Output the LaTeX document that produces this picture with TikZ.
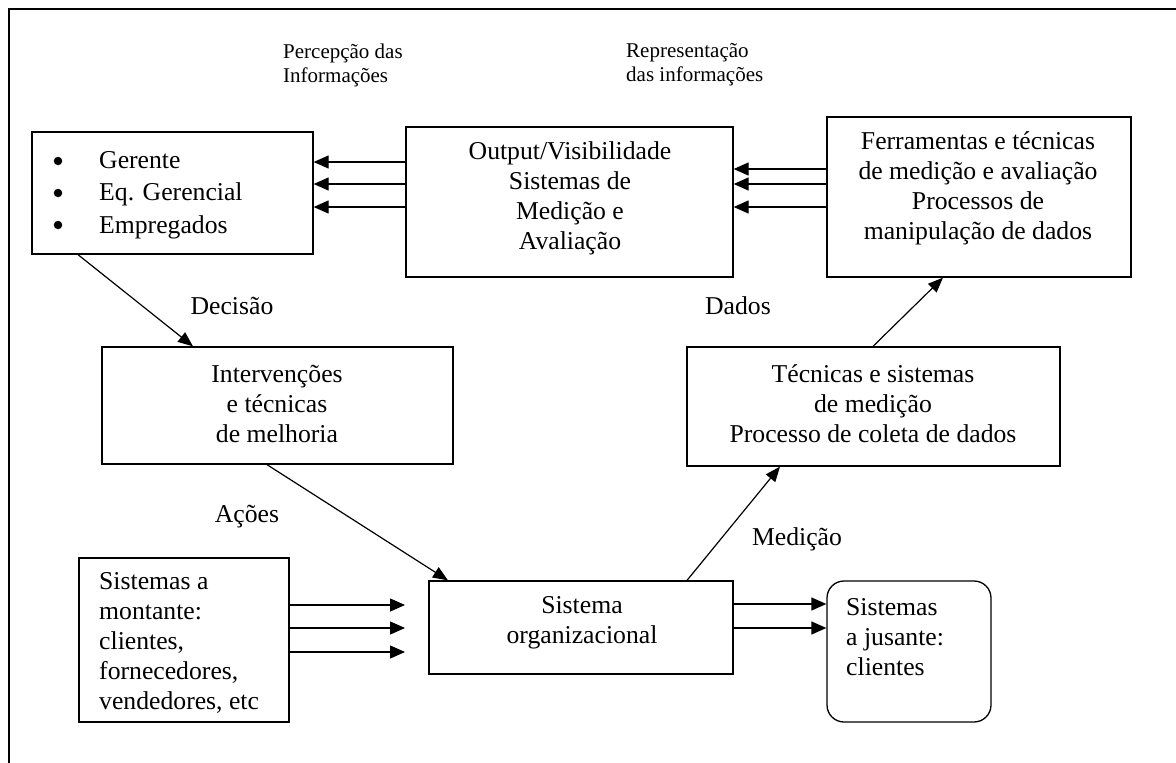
\documentclass[tikz,border=0pt]{standalone}
\usepackage{fontspec}
\setmainfont{Liberation Serif}
\usetikzlibrary{arrows.meta}
\begin{document}
\begin{tikzpicture}[x=1pt,y=-1pt,
  box/.style={draw, line width=1.3pt, inner sep=0pt},
  roundbox/.style={box, rounded corners=17pt},
  txt/.style={inner sep=0pt, font=\fontsize{25.7}{30}\selectfont},
  small/.style={inner sep=0pt, font=\fontsize{21}{24}\selectfont},
  dot/.style={circle, fill, inner sep=0pt, minimum size=8.5pt},
  arr/.style={line width=1.3pt, -{Triangle[length=15pt,width=13pt]}},
  diag/.style={line width=1.2pt, -{Triangle[length=15pt,width=12pt]}}]
\useasboundingbox (0,0) rectangle (1176,763);

% frame (top and left edges)
\draw[line width=1.7pt] (1176,9) -- (9,9) -- (9,763);

% boxes
\node[box, minimum width=281pt, minimum height=122pt] (b1) at (172.5,193) {};
\node[box, minimum width=327pt, minimum height=150pt] (b2) at (569.5,202) {};
\node[box, minimum width=304pt, minimum height=160pt] (b3) at (979,197) {};
\node[box, minimum width=351pt, minimum height=117pt] (b4) at (277.5,405.5) {};
\node[box, minimum width=373pt, minimum height=119pt] (b5) at (873.5,406.5) {};
\node[box, minimum width=304pt, minimum height=93pt] (b6) at (581,627.5) {};
\node[box, minimum width=210pt, minimum height=164pt] (b7) at (184,640) {};
\node[roundbox, minimum width=164pt, minimum height=141pt] (b8) at (909,651.5) {};

% bullet list
\node[dot] (d1) at (58,161) {};
\node[dot] (d2) at (58,193) {};
\node[dot] (d3) at (58,225) {};
\node[txt, anchor=west, font=\fontsize{25.7}{32.5}\selectfont, align=left] (t1) at (99,195)
  {Gerente\\Eq. Gerencial\\Empregados};

% box texts
\node[txt, align=center] (t2) at (570,198) {Output/Visibilidade\\Sistemas de\\Medição e\\Avaliação};
\node[txt, align=center] (t3) at (978,188) {Ferramentas e técnicas\\de medição e avaliação\\Processos de\\manipulação de dados};
\node[txt, align=center] (t4) at (277,404) {Intervenções\\e técnicas\\de melhoria};
\node[txt, align=center] (t5) at (873,404) {Técnicas e sistemas\\de medição\\Processo de coleta de dados};
\node[txt, align=center] (t6) at (582,622.5) {Sistema\\organizacional};
\node[txt, anchor=west, align=left] (t7) at (99,643) {Sistemas a\\montante:\\clientes,\\fornecedores,\\vendedores, etc};
\node[txt, anchor=west, align=left] (t8) at (846,637) {Sistemas\\a jusante:\\clientes};

% headings
\node[small, anchor=west, align=left] (h1) at (283,65) {Percepção das\\Informações};
\node[small, anchor=west, align=left] (h2) at (626,65) {Representação\\das informações};

% flow labels
\node[txt] (l1) at (232,306) {Decisão};
\node[txt] (l2) at (738,306) {Dados};
\node[txt] (l3) at (247,517) {Ações};
\node[txt] (l4) at (797,539) {Medição};

% information flows
\draw[arr] (b2.west |- 0,162) -- (b1.east |- 0,162);
\draw[arr] (b2.west |- 0,184) -- (b1.east |- 0,184);
\draw[arr] (b2.west |- 0,207) -- (b1.east |- 0,207);
\draw[arr] (b3.west |- 0,169) -- (b2.east |- 0,169);
\draw[arr] (b3.west |- 0,184) -- (b2.east |- 0,184);
\draw[arr] (b3.west |- 0,207) -- (b2.east |- 0,207);

% cycle
\draw[diag] (b1.south -| 78,0) -- (b4.north -| 193,0);
\draw[diag] (b4.south -| 267,0) -- (b6.north -| 448,0);
\draw[diag] (b6.north -| 687,0) -- (b5.south -| 780,0);
\draw[diag] (b5.north -| 873,0) -- (b3.south -| 943,0);

% inputs and outputs
\coordinate (i1) at (405,605);
\coordinate (i2) at (405,628);
\coordinate (i3) at (405,652);
\draw[arr] (b7.east |- i1) -- (i1);
\draw[arr] (b7.east |- i2) -- (i2);
\draw[arr] (b7.east |- i3) -- (i3);
\draw[arr] (b6.east |- 0,604) -- (b8.west |- 0,604);
\draw[arr] (b6.east |- 0,628) -- (b8.west |- 0,628);
\end{tikzpicture}
\end{document}
